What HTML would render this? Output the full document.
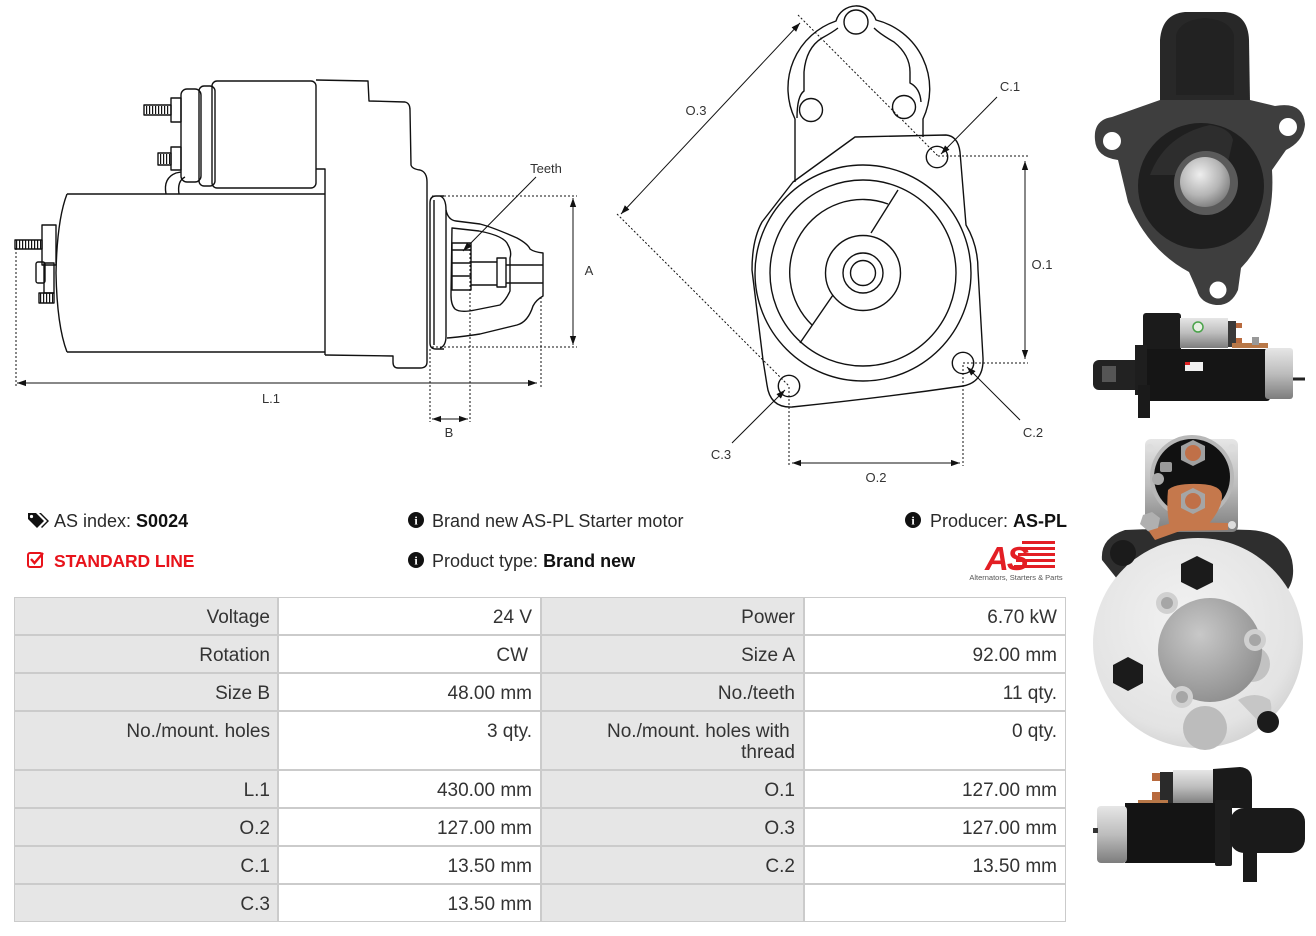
<!DOCTYPE html>
<html><head><meta charset="utf-8">
<style>
html,body{margin:0;padding:0;background:#fff;}
body{width:1316px;height:936px;position:relative;overflow:hidden;font-family:"Liberation Sans",Arial,sans-serif;}
svg.main{position:absolute;left:0;top:0;}
.t{position:absolute;font-size:18px;color:#2a2a2a;white-space:nowrap;line-height:20px;}
.t b{color:#111;}
.c{position:absolute;box-sizing:border-box;border:1px solid #cbcbcb;font-size:19px;color:#333;text-align:right;padding-right:8px;line-height:20px;padding-top:10px;white-space:nowrap;}
.l{background:#e6e6e6;}
.v{background:#fff;}
</style></head><body>
<svg class="main" width="1316" height="936" viewBox="0 0 1316 936" xmlns="http://www.w3.org/2000/svg">
<defs>
<marker id="ah" viewBox="0 0 10 10" refX="10" refY="5" markerWidth="9" markerHeight="9" markerUnits="userSpaceOnUse" orient="auto-start-reverse"><path d="M0,1.5 L10,5 L0,8.5 Z" fill="#111"/></marker>
<linearGradient id="sil" x1="0" y1="0" x2="0" y2="1"><stop offset="0" stop-color="#e6e6e6"/><stop offset="0.5" stop-color="#bdbdbd"/><stop offset="1" stop-color="#7d7d7d"/></linearGradient>
<radialGradient id="silr" cx="0.4" cy="0.35" r="0.7"><stop offset="0" stop-color="#eeeeee"/><stop offset="0.6" stop-color="#b5b5b5"/><stop offset="1" stop-color="#7a7a7a"/></radialGradient>
<radialGradient id="wd" cx="0.45" cy="0.4" r="0.65"><stop offset="0" stop-color="#f2f2f2"/><stop offset="0.8" stop-color="#e3e3e3"/><stop offset="1" stop-color="#cfcfcf"/></radialGradient>
<radialGradient id="cov" cx="0.4" cy="0.35" r="0.7"><stop offset="0" stop-color="#c8c8c8"/><stop offset="1" stop-color="#8e8e8e"/></radialGradient>
</defs>

<!-- ===== LEFT SIDE DRAWING ===== -->
<g stroke="#111" stroke-width="1.4" fill="none" stroke-linejoin="round">
  <rect x="181" y="89" width="20" height="93" rx="6"/>
  <rect x="199" y="86" width="16" height="100" rx="5"/>
  <rect x="212" y="81" width="104" height="107" rx="5"/>
  <rect x="171" y="98" width="10" height="24"/>
  <rect x="144" y="105" width="27" height="10"/>
  <line x1="146" y1="110" x2="170" y2="110" stroke-width="8" stroke-dasharray="1.2,1.8"/>
  <rect x="171" y="147" width="10" height="23"/>
  <rect x="158" y="153" width="13" height="12"/>
  <line x1="160" y1="159" x2="170" y2="159" stroke-width="10" stroke-dasharray="1.2,1.8"/>
  <path d="M316,80 L368,81 L369,101 L405,102 Q410,103 410,110 L411,165 Q412,169 420,170 Q427,172 427,182 L427,362 Q427,368 420,368 L398,368 Q393,368 393,362 L393,356 L325,355"/>
  <path d="M316,169 L325,169 L325,355"/>
  <path d="M166,194 Q163,178 176,173 L181,172"/>
  <path d="M179,194 Q177,181 185,177"/>
  <path d="M67,194 L325,194 M325,352 L67,352 M67,194 Q57,220 56,273 Q57,326 67,352"/>
  <rect x="42" y="225" width="14" height="40"/>
  <rect x="15" y="240" width="27" height="9"/>
  <line x1="16" y1="244.5" x2="41" y2="244.5" stroke-width="8" stroke-dasharray="1.2,1.8"/>
  <rect x="36" y="262" width="9" height="21" rx="2"/>
  <rect x="44" y="263" width="10" height="30"/>
  <rect x="39" y="293" width="15" height="10"/>
  <line x1="40" y1="298" x2="53" y2="298" stroke-width="9" stroke-dasharray="1.2,1.8"/>
  <path d="M444,196 L436,196 Q430,196 430,203 L430,343 Q430,349 436,349 L444,349"/>
  <path d="M440,196 Q446,198 446,210 L446,336 Q446,346 440,348"/>
  <line x1="434" y1="200" x2="434" y2="345"/>
  <path d="M446,210 Q448,220 456,221 L480,224 Q492,227 517,238 Q528,244 530,249 Q534,252 543,253 L543,296 Q536,300 533,306 Q528,322 517,325 L480,334 Q460,337 447,338"/>
  <path d="M452,228 L479,231 Q505,236 508,245 Q512,252 510,258 L510,291 Q506,300 500,305 L475,310 Q460,313 455,309 Q451,305 451,295 Z"/>
  <rect x="452" y="243" width="19" height="47"/>
  <line x1="452" y1="250" x2="471" y2="250"/>
  <line x1="452" y1="263" x2="471" y2="263"/>
  <line x1="452" y1="276" x2="471" y2="276"/>
  <line x1="471" y1="262" x2="497" y2="262"/>
  <line x1="471" y1="285" x2="497" y2="285"/>
  <rect x="497" y="258" width="9" height="29"/>
  <line x1="506" y1="265" x2="543" y2="265"/>
  <line x1="506" y1="283" x2="543" y2="283"/>
</g>
<g stroke="#111" stroke-width="1" fill="none">
  <g stroke-dasharray="2,2">
    <line x1="16" y1="248" x2="16" y2="387"/>
    <line x1="541" y1="297" x2="541" y2="387"/>
    <line x1="432" y1="196" x2="577" y2="196"/>
    <line x1="432" y1="347" x2="577" y2="347"/>
    <line x1="430" y1="349" x2="430" y2="422"/>
    <line x1="470" y1="245" x2="470" y2="422"/>
  </g>
  <line x1="17" y1="383" x2="537" y2="383" marker-start="url(#ah)" marker-end="url(#ah)"/>
  <line x1="573" y1="198" x2="573" y2="345" marker-start="url(#ah)" marker-end="url(#ah)"/>
  <line x1="432" y1="419" x2="468" y2="419" marker-start="url(#ah)" marker-end="url(#ah)"/>
  <line x1="536" y1="177" x2="463" y2="251" marker-end="url(#ah)"/>
</g>
<g font-family="Liberation Sans, Arial, sans-serif" font-size="13" fill="#333" text-anchor="middle">
  <text x="546" y="173">Teeth</text>
  <text x="271" y="403">L.1</text>
  <text x="589" y="275">A</text>
  <text x="449" y="437">B</text>
</g>

<!-- ===== MIDDLE FRONT DRAWING ===== -->
<g stroke="#111" stroke-width="1.4" fill="none" stroke-linejoin="round">
  <path d="M795,182 L795,119 A71,71 0 0 1 836,21 A21,21 0 0 1 876,20 A71,71 0 0 1 923,119 L923,137"/>
  <path d="M797,118 Q797,96 804,91 L804,72 Q806,48 822,38 Q833,32 838,28"/>
  <path d="M874,28 Q880,34 894,42 Q910,55 910,72 L910,83 Q920,88 921,102"/>
  <circle cx="856" cy="22" r="12"/>
  <circle cx="811" cy="110" r="11.5"/>
  <circle cx="904" cy="107" r="11.5"/>
  <path d="M855,137 L946,135 Q958,136 960,152 L966,225 Q978,245 978,270 L983,358 Q984,382 963,386 Q880,398 792,407 Q770,408 767,385 L763,360 L752,270 Q752,240 762,222 L793,182 Z"/>
  <circle cx="863" cy="273" r="108"/>
  <circle cx="863" cy="273" r="93"/>
  <path d="M888,204 A73,73 0 0 0 812,325"/>
  <line x1="898" y1="190" x2="871" y2="233"/>
  <line x1="833" y1="295" x2="800" y2="343"/>
  <circle cx="863" cy="273" r="37.5"/>
  <circle cx="863" cy="273" r="20"/>
  <circle cx="863" cy="273" r="12.5"/>
  <circle cx="937" cy="157" r="10.7"/>
  <circle cx="963" cy="363" r="10.7"/>
  <circle cx="789" cy="386" r="10.7"/>
</g>
<g stroke="#111" stroke-width="1" fill="none">
  <g stroke-dasharray="2,2">
    <line x1="938" y1="156" x2="1028" y2="156"/>
    <line x1="963" y1="363" x2="1028" y2="363"/>
    <line x1="789" y1="387" x2="789" y2="466"/>
    <line x1="963" y1="365" x2="963" y2="466"/>
    <line x1="798" y1="15" x2="938" y2="156"/>
    <line x1="617" y1="214" x2="789" y2="386"/>
  </g>
  <line x1="1025" y1="161" x2="1025" y2="359" marker-start="url(#ah)" marker-end="url(#ah)"/>
  <line x1="792" y1="463" x2="960" y2="463" marker-start="url(#ah)" marker-end="url(#ah)"/>
  <line x1="800" y1="23" x2="621" y2="214" marker-start="url(#ah)" marker-end="url(#ah)"/>
  <line x1="997" y1="97" x2="941" y2="154" marker-end="url(#ah)"/>
  <line x1="1020" y1="420" x2="967" y2="367" marker-end="url(#ah)"/>
  <line x1="732" y1="443" x2="785" y2="390" marker-end="url(#ah)"/>
</g>
<g font-family="Liberation Sans, Arial, sans-serif" font-size="13" fill="#333" text-anchor="middle">
  <text x="696" y="115">O.3</text>
  <text x="1010" y="91">C.1</text>
  <text x="1042" y="269">O.1</text>
  <text x="1033" y="437">C.2</text>
  <text x="721" y="459">C.3</text>
  <text x="876" y="482">O.2</text>
</g>

<!-- ===== PHOTO 1: front flange ===== -->
<g>
  <path d="M1160,102 L1160,40 Q1162,14 1185,12 L1225,12 Q1248,14 1249,40 L1250,102 Z" fill="#282828"/>
  <path d="M1176,95 L1176,35 Q1180,20 1205,18 Q1230,20 1234,35 L1234,95 Z" fill="#222"/>
  <path d="M1095,140 Q1093,120 1112,117 L1160,100 L1250,100 L1275,106 Q1303,101 1305,124 Q1304,141 1286,150 L1272,170 Q1276,232 1241,268 L1238,290 Q1231,306 1216,305 Q1200,303 1197,290 L1189,272 Q1148,250 1128,202 L1118,160 Q1096,157 1095,140 Z" fill="#3e3e3e"/>
  <circle cx="1201" cy="186" r="63" fill="#1f1f1f"/>
  <path d="M1150,175 Q1165,135 1210,125 Q1230,128 1233,140 L1225,175 Z" fill="#2d2d2d"/>
  <circle cx="1206" cy="183" r="32" fill="#5a5a5a"/>
  <circle cx="1205" cy="182" r="25" fill="url(#silr)"/>
  <circle cx="1112" cy="141" r="9" fill="#fff"/>
  <circle cx="1288" cy="127" r="9" fill="#fff"/>
  <circle cx="1218" cy="290" r="8.5" fill="#fff"/>
</g>

<!-- ===== PHOTO 2: side view ===== -->
<g>
  <rect x="1143" y="313" width="38" height="45" rx="3" fill="#1b1b1b"/>
  <rect x="1180" y="318" width="48" height="30" fill="url(#sil)"/>
  <circle cx="1198" cy="327" r="5" fill="#e8efe4" stroke="#4aa34a" stroke-width="1.5"/>
  <rect x="1228" y="321" width="8" height="26" fill="#3a3a3a"/>
  <rect x="1236" y="323" width="6" height="5" fill="#b86a3e"/>
  <rect x="1236" y="338" width="6" height="5" fill="#b86a3e"/>
  <rect x="1232" y="343" width="36" height="5" fill="#b87848"/>
  <rect x="1252" y="337" width="7" height="8" fill="#999"/>
  <rect x="1140" y="349" width="130" height="52" rx="3" fill="#151515"/>
  <rect x="1185" y="362" width="18" height="9" fill="#f0f0f0"/>
  <rect x="1185" y="362" width="5" height="3" fill="#d22"/>
  <rect x="1265" y="348" width="28" height="51" rx="3" fill="url(#sil)"/>
  <rect x="1093" y="360" width="48" height="30" rx="6" fill="#222"/>
  <rect x="1102" y="366" width="14" height="16" fill="#555"/>
  <rect x="1135" y="345" width="12" height="50" fill="#1e1e1e"/>
  <rect x="1138" y="385" width="12" height="33" fill="#1a1a1a"/>
  <line x1="1293" y1="379" x2="1305" y2="379" stroke="#222" stroke-width="3"/>
</g>

<!-- ===== PHOTO 3: rear view ===== -->
<g>
  <path d="M1102,560 Q1100,538 1125,530 L1180,528 L1250,530 Q1285,532 1292,560 Q1296,580 1286,592 L1270,585 Q1268,560 1240,550 L1150,552 Q1125,560 1118,580 Z" fill="#2e2e2e"/>
  <circle cx="1198" cy="643" r="105" fill="url(#wd)"/>
  <rect x="1145" y="439" width="93" height="93" rx="6" fill="url(#sil)"/>
  <circle cx="1192" cy="477" r="42" fill="#b8b8b8"/>
  <circle cx="1192" cy="477" r="38" fill="#111"/>
  <polygon points="1193,440 1205,446 1205,460 1193,466 1181,460 1181,446" fill="#a0a0a0"/>
  <circle cx="1193" cy="453" r="8" fill="#c07048"/>
  <rect x="1160" y="462" width="12" height="10" rx="2" fill="#9a9a9a"/>
  <circle cx="1158" cy="479" r="6" fill="#aaa"/>
  <path d="M1168,490 Q1175,483 1200,484 Q1222,485 1222,496 Q1222,510 1205,528 L1170,528 Q1166,510 1168,490 Z" fill="#c5784c"/>
  <polygon points="1193,488 1205,494 1205,508 1193,514 1181,508 1181,494" fill="#a5a5a5"/>
  <circle cx="1193" cy="501" r="8" fill="#c07048"/>
  <path d="M1148,530 L1175,522 L1228,523 L1228,530 L1180,531 L1155,540 Z" fill="#c5784c"/>
  <polygon points="1143,515 1152,512 1160,518 1158,528 1148,531 1140,524" fill="#b0b0b0"/>
  <circle cx="1150" cy="448" r="4" fill="#ddd"/>
  <circle cx="1232" cy="448" r="4" fill="#ddd"/>
  <circle cx="1232" cy="525" r="4" fill="#ddd"/>
  <path d="M1238,700 Q1255,690 1270,700 Q1275,715 1262,725 Z" fill="#c6c6c6"/>
  <circle cx="1205" cy="728" r="22" fill="#bcbcbc"/>
  <circle cx="1252" cy="664" r="18" fill="#c2c2c2"/>
  <circle cx="1210" cy="650" r="52" fill="url(#cov)"/>
  <circle cx="1167" cy="603" r="11" fill="#d0d0d0"/>
  <circle cx="1167" cy="603" r="6" fill="#a6a6a6"/>
  <circle cx="1255" cy="640" r="11" fill="#d0d0d0"/>
  <circle cx="1255" cy="640" r="6" fill="#a6a6a6"/>
  <circle cx="1182" cy="697" r="11" fill="#d0d0d0"/>
  <circle cx="1182" cy="697" r="6" fill="#a6a6a6"/>
  <circle cx="1123" cy="553" r="13" fill="#1b1b1b"/>
  <polygon points="1197,556 1213,564 1213,582 1197,590 1181,582 1181,564" fill="#1b1b1b"/>
  <polygon points="1128,657 1143,665 1143,683 1128,691 1113,683 1113,665" fill="#1b1b1b"/>
  <circle cx="1268" cy="722" r="11" fill="#1b1b1b"/>
</g>

<!-- ===== PHOTO 4: side view ===== -->
<g>
  <rect x="1152" y="773" width="8" height="8" fill="#b86a3e"/>
  <rect x="1152" y="792" width="8" height="8" fill="#b86a3e"/>
  <rect x="1160" y="772" width="13" height="33" fill="#2a2a2a"/>
  <rect x="1173" y="770" width="42" height="34" fill="url(#sil)"/>
  <path d="M1213,769 L1240,767 Q1252,768 1252,780 L1252,808 L1213,808 Z" fill="#1a1a1a"/>
  <rect x="1138" y="800" width="30" height="5" fill="#b87848"/>
  <rect x="1125" y="803" width="97" height="60" fill="#141414"/>
  <rect x="1097" y="806" width="30" height="57" rx="4" fill="url(#sil)"/>
  <rect x="1093" y="828" width="5" height="5" fill="#333"/>
  <rect x="1215" y="800" width="17" height="66" rx="2" fill="#1e1e1e"/>
  <rect x="1230" y="808" width="75" height="45" rx="14" fill="#1a1a1a"/>
  <rect x="1243" y="845" width="14" height="37" fill="#1a1a1a"/>
</g>

<!-- ===== AS logo ===== -->
<g>
  <g fill="#e31e24">
    <rect x="1022" y="541" width="33" height="3"/>
    <rect x="1020" y="547" width="35" height="3"/>
    <rect x="1018" y="553" width="37" height="3"/>
    <rect x="1016" y="559" width="39" height="3"/>
    <rect x="1014" y="565" width="41" height="3"/>
  </g>
  <text x="985" y="570" font-family="Liberation Sans, Arial, sans-serif" font-size="33" font-weight="bold" font-style="italic" fill="#e31e24" letter-spacing="-2">AS</text>
  <text x="1016" y="580" font-family="Liberation Sans, Arial, sans-serif" font-size="7.5" fill="#555" text-anchor="middle">Alternators, Starters &amp; Parts</text>
</g>

<!-- icons -->
<g>
  <path d="M28,513 L36,513 L44,521 L37,528 L28,519 Z" fill="#111"/>
  <circle cx="31.5" cy="516.5" r="1.6" fill="#fff"/>
  <path d="M39,513 L41,513 L49,521 L42,528 L41,527 L47,521 Z" fill="#111"/>
  <rect x="28" y="553" width="14" height="14" rx="2" fill="none" stroke="#e8131b" stroke-width="2"/>
  <path d="M31,559 L34.5,563 L43,553" fill="none" stroke="#e8131b" stroke-width="2.4"/>
  <circle cx="416" cy="520" r="8" fill="#111"/>
  <circle cx="416" cy="560" r="8" fill="#111"/>
  <circle cx="913" cy="520" r="8" fill="#111"/>
</g>
<g font-family="Liberation Serif, serif" font-weight="bold" font-size="12" fill="#fff" text-anchor="middle">
  <text x="416" y="524.5">i</text>
  <text x="416" y="564.5">i</text>
  <text x="913" y="524.5">i</text>
</g>
</svg>

<!-- info texts -->
<div class="t" style="left:54px;top:511px;">AS index: <b>S0024</b></div>
<div class="t" style="left:54px;top:551px;color:#e8131b;font-weight:bold;font-size:17.5px;letter-spacing:-0.1px;">STANDARD LINE</div>
<div class="t" style="left:432px;top:511px;">Brand new AS-PL Starter motor</div>
<div class="t" style="left:432px;top:551px;">Product type: <b>Brand new</b></div>
<div class="t" style="left:930px;top:511px;">Producer: <b>AS-PL</b></div>

<!-- table -->
<div class="c l" style="left:14px;top:597px;width:264px;height:38px;padding-right:7px;">Voltage</div>
<div class="c v" style="left:278px;top:597px;width:263px;height:38px;">24 V</div>
<div class="c l" style="left:541px;top:597px;width:263px;height:38px;">Power</div>
<div class="c v" style="left:804px;top:597px;width:262px;height:38px;">6.70 kW</div>

<div class="c l" style="left:14px;top:635px;width:264px;height:38px;padding-right:7px;">Rotation</div>
<div class="c v" style="left:278px;top:635px;width:263px;height:38px;padding-right:12px;">CW</div>
<div class="c l" style="left:541px;top:635px;width:263px;height:38px;">Size A</div>
<div class="c v" style="left:804px;top:635px;width:262px;height:38px;">92.00 mm</div>

<div class="c l" style="left:14px;top:673px;width:264px;height:38px;padding-right:7px;">Size B</div>
<div class="c v" style="left:278px;top:673px;width:263px;height:38px;">48.00 mm</div>
<div class="c l" style="left:541px;top:673px;width:263px;height:38px;">No./teeth</div>
<div class="c v" style="left:804px;top:673px;width:262px;height:38px;">11 qty.</div>

<div class="c l" style="left:14px;top:711px;width:264px;height:59px;padding-right:7px;">No./mount. holes</div>
<div class="c v" style="left:278px;top:711px;width:263px;height:59px;">3 qty.</div>
<div class="c l" style="left:541px;top:711px;width:263px;height:59px;line-height:21px;padding-top:9px;">No./mount. holes with&nbsp;<br>thread</div>
<div class="c v" style="left:804px;top:711px;width:262px;height:59px;">0 qty.</div>

<div class="c l" style="left:14px;top:770px;width:264px;height:38px;padding-right:7px;">L.1</div>
<div class="c v" style="left:278px;top:770px;width:263px;height:38px;">430.00 mm</div>
<div class="c l" style="left:541px;top:770px;width:263px;height:38px;">O.1</div>
<div class="c v" style="left:804px;top:770px;width:262px;height:38px;">127.00 mm</div>

<div class="c l" style="left:14px;top:808px;width:264px;height:38px;padding-right:7px;">O.2</div>
<div class="c v" style="left:278px;top:808px;width:263px;height:38px;">127.00 mm</div>
<div class="c l" style="left:541px;top:808px;width:263px;height:38px;">O.3</div>
<div class="c v" style="left:804px;top:808px;width:262px;height:38px;">127.00 mm</div>

<div class="c l" style="left:14px;top:846px;width:264px;height:38px;padding-right:7px;">C.1</div>
<div class="c v" style="left:278px;top:846px;width:263px;height:38px;">13.50 mm</div>
<div class="c l" style="left:541px;top:846px;width:263px;height:38px;">C.2</div>
<div class="c v" style="left:804px;top:846px;width:262px;height:38px;">13.50 mm</div>

<div class="c l" style="left:14px;top:884px;width:264px;height:38px;padding-right:7px;">C.3</div>
<div class="c v" style="left:278px;top:884px;width:263px;height:38px;">13.50 mm</div>
<div class="c l" style="left:541px;top:884px;width:263px;height:38px;"></div>
<div class="c v" style="left:804px;top:884px;width:262px;height:38px;"></div>
</body></html>
